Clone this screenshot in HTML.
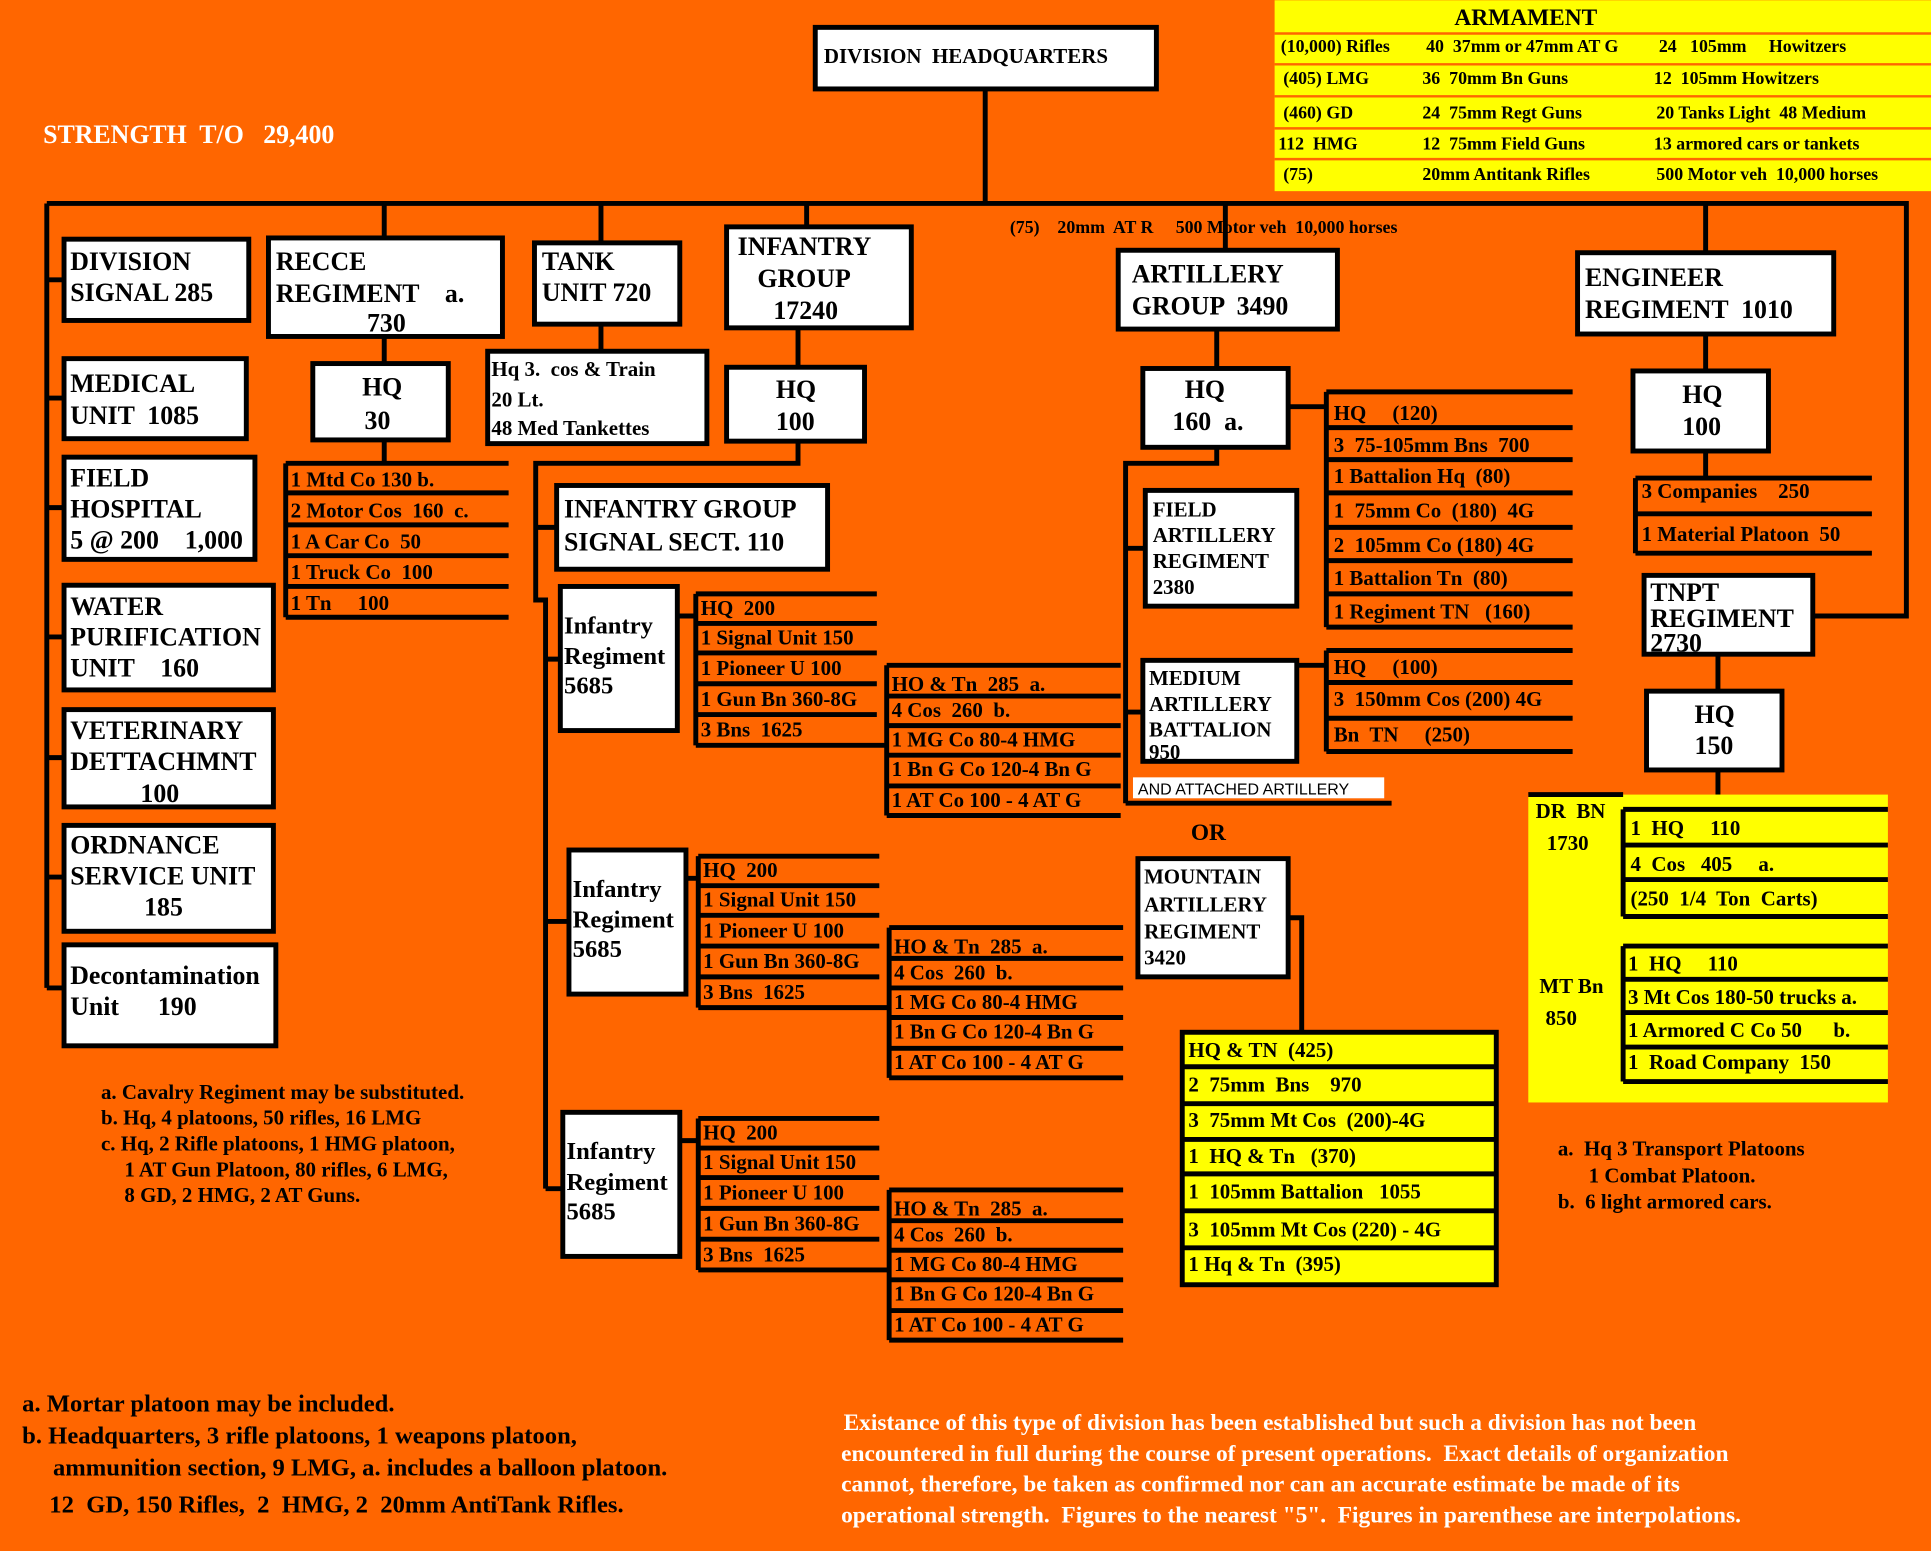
<!DOCTYPE html>
<html><head><meta charset="utf-8"><style>
html,body{margin:0;padding:0;background:#FF6600;}
svg{display:block;}
text{font-family:"Liberation Serif",serif;font-weight:bold;fill:#000;white-space:pre;}
.b{font-size:21px;}
.s{font-size:17px;}
.a{font-size:14.5px;}
.w{fill:#fff;}
</style></head><body>
<svg width="1931" height="1551" viewBox="0 0 1568 1259" xmlns="http://www.w3.org/2000/svg" xml:space="preserve">
<rect x="0" y="0" width="1568" height="1259" fill="#FF6600"/>
<g stroke="#000" stroke-width="4" fill="none">
<path d="M800 72V165M38 165H1548V500H1472M38 165V802"/>
<path d="M312 165V193M488 165V197M655 165V184M995 165V203M1385 165V205"/>
<path d="M38 227H52M38 323H52M38 412H52M38 517H52M38 615H52M38 712H52M38 802H52"/>
<path d="M312 273V295M312 357V376M232 376V501"/>
<path d="M232 376H413M232 400H413M232 426H413M232 451H413M232 476H413M232 501H413"/>
<path d="M488 263V285"/>
<path d="M648 266V298M648 358V376H435V487H443V965"/>
<path d="M435 428H452M443 535H455M443 748H462M443 965H457"/>
<path d="M988 267V299M988 363V376H914V652"/>
<path d="M914 445H930M914 578H928M914 652H1130"/>
<path d="M1046 330H1077M1077 318V509M1053 540H1077M1077 528V610"/>
<path d="M1077 318H1277M1077 347H1277M1077 373H1277M1077 400H1277M1077 428H1277M1077 455H1277M1077 482H1277M1077 509H1277"/>
<path d="M1077 528H1277M1077 554H1277M1077 583H1277M1077 610H1277"/>
<path d="M1046 745H1057V838"/>
<path d="M1385 271V301M1385 366V388M1328 388V449M1328 388H1520M1328 417H1520M1328 449H1520"/>
<path d="M1395 531V561M1395 625V645"/>
</g>
<g stroke="#000" stroke-width="4" fill="none">
<path d="M550 500H565M565 482V605M565 482H712M565 506H712M565 530H712M565 555H712M565 580H712M565 605H720"/>
<path d="M720 540V662M720 540H910M720 565H910M720 589H910M720 613H910M720 638H910M720 662H910"/>
</g>
<g stroke="#000" stroke-width="4" fill="none" transform="translate(2,213)">
<path d="M555 500H565M565 482V605M565 482H712M565 506H712M565 530H712M565 555H712M565 580H712M565 605H720"/>
<path d="M720 540V662M720 540H910M720 565H910M720 589H910M720 613H910M720 638H910M720 662H910"/>
</g>
<g stroke="#000" stroke-width="4" fill="none" transform="translate(2,426)">
<path d="M550 500H565M565 482V605M565 482H712M565 506H712M565 530H712M565 555H712M565 580H712M565 605H720"/>
<path d="M720 540V662M720 540H910M720 565H910M720 589H910M720 613H910M720 638H910M720 662H910"/>
</g>
<g fill="#fff" stroke="#000" stroke-width="4">
<rect x="662" y="22" width="277" height="50"/>
<rect x="52" y="194" width="150" height="66"/>
<rect x="52" y="291" width="148" height="65"/>
<rect x="52" y="371" width="155" height="83"/>
<rect x="52" y="475" width="170" height="85"/>
<rect x="52" y="576" width="170" height="79"/>
<rect x="52" y="670" width="170" height="86"/>
<rect x="52" y="767" width="172" height="82"/>
<rect x="218" y="193" width="190" height="80"/>
<rect x="254" y="295" width="110" height="62"/>
<rect x="434" y="197" width="118" height="66"/>
<rect x="396" y="285" width="178" height="75"/>
<rect x="590" y="184" width="150" height="82"/>
<rect x="590" y="298" width="112" height="60"/>
<rect x="452" y="394" width="220" height="68"/>
<rect x="455" y="476" width="95" height="117"/>
<rect x="462" y="690" width="95" height="117"/>
<rect x="457" y="903" width="95" height="117"/>
<rect x="908" y="203" width="178" height="64"/>
<rect x="928" y="299" width="118" height="64"/>
<rect x="930" y="398" width="123" height="94"/>
<rect x="928" y="536" width="125" height="82"/>
<rect x="924" y="697" width="122" height="96"/>
<rect x="1281" y="205" width="208" height="66"/>
<rect x="1326" y="301" width="110" height="65"/>
<rect x="1335" y="467" width="137" height="64"/>
<rect x="1337" y="561" width="110" height="64"/>
</g>
<rect x="920" y="631" width="204" height="17" fill="#fff"/>
<rect x="1035" y="0" width="533" height="155" fill="#FFFF00"/>
<g stroke="#FF6600" stroke-width="2"><path d="M1035 27H1568M1035 52H1568M1035 78H1568M1035 104H1568M1035 129H1568"/></g>
<rect x="960" y="838" width="255" height="205" fill="#FFFF00" stroke="#000" stroke-width="4"/>
<g stroke="#000" stroke-width="4"><path d="M960 866H1215M960 896H1215M960 925H1215M960 953H1215M960 983H1215M960 1013H1215"/></g>
<rect x="1241" y="645" width="292" height="250" fill="#FFFF00"/>
<g stroke="#000" stroke-width="4" fill="none">
<path d="M1241 645H1318M1318 657V744M1318 657H1533M1318 686H1533M1318 714H1533M1318 744H1533"/>
<path d="M1318 768V878M1318 768H1533M1318 795H1533M1318 822H1533M1318 850H1533M1318 878H1533"/>
</g>

<text class="s" x="669" y="51">DIVISION  HEADQUARTERS</text>
<text class="b w" x="35" y="116">STRENGTH  T/O   29,400</text>
<text class="s" x="1181" y="20" style="font-size:19px">ARMAMENT</text>
<g class="a">
<text x="1040" y="42">(10,000) Rifles</text><text x="1158" y="42">40  37mm or 47mm AT G</text><text x="1347" y="42">24   105mm     Howitzers</text>
<text x="1042" y="68">(405) LMG</text><text x="1155" y="68">36  70mm Bn Guns</text><text x="1343" y="68">12  105mm Howitzers</text>
<text x="1042" y="96">(460) GD</text><text x="1155" y="96">24  75mm Regt Guns</text><text x="1345" y="96">20 Tanks Light  48 Medium</text>
<text x="1038" y="121">112  HMG</text><text x="1155" y="121">12  75mm Field Guns</text><text x="1343" y="121">13 armored cars or tankets</text>
<text x="1042" y="146">(75)</text><text x="1155" y="146">20mm Antitank Rifles</text><text x="1345" y="146">500 Motor veh  10,000 horses</text>
<text x="820" y="189">(75)    20mm  AT R     500 Motor veh  10,000 horses</text>
</g>
<g class="b">
<text x="57" y="219">DIVISION</text><text x="57" y="244">SIGNAL 285</text>
<text x="57" y="318">MEDICAL</text><text x="57" y="344">UNIT  1085</text>
<text x="57" y="395">FIELD</text><text x="57" y="420">HOSPITAL</text><text x="57" y="445">5 @ 200    1,000</text>
<text x="57" y="499">WATER</text><text x="57" y="524">PURIFICATION</text><text x="57" y="549">UNIT    160</text>
<text x="57" y="600">VETERINARY</text><text x="57" y="625">DETTACHMNT</text><text x="114" y="651">100</text>
<text x="57" y="693">ORDNANCE</text><text x="57" y="718">SERVICE UNIT</text><text x="117" y="743">185</text>
<text x="57" y="799">Decontamination</text><text x="57" y="824">Unit      190</text>
<text x="224" y="219">RECCE</text><text x="224" y="245">REGIMENT    a.</text><text x="298" y="269">730</text>
<text x="294" y="321">HQ</text><text x="296" y="348">30</text>
<text x="440" y="219">TANK</text><text x="440" y="244">UNIT 720</text>
<text x="599" y="207">INFANTRY</text><text x="615" y="233">GROUP</text><text x="628" y="259">17240</text>
<text x="630" y="323">HQ</text><text x="630" y="349">100</text>
<text x="458" y="420">INFANTRY GROUP</text><text x="458" y="447">SIGNAL SECT. 110</text>
<text x="919" y="229">ARTILLERY</text><text x="919" y="255">GROUP  3490</text>
<text x="962" y="323">HQ</text><text x="952" y="349">160  a.</text>
<text x="1287" y="232">ENGINEER</text><text x="1287" y="258">REGIMENT  1010</text>
<text x="1366" y="327">HQ</text><text x="1366" y="353">100</text>
<text x="1376" y="587">HQ</text><text x="1376" y="612">150</text>
<text x="1340" y="488">TNPT</text><text x="1340" y="509">REGIMENT</text><text x="1340" y="529">2730</text>
</g>
<g class="s">
<text x="399" y="305">Hq 3.  cos &amp; Train</text><text x="399" y="330">20 Lt.</text><text x="399" y="353">48 Med Tankettes</text>
<text x="236" y="395">1 Mtd Co 130 b.</text><text x="236" y="420">2 Motor Cos  160  c.</text><text x="236" y="445">1 A Car Co  50</text><text x="236" y="470">1 Truck Co  100</text><text x="236" y="495">1 Tn     100</text>
<text x="936" y="419">FIELD</text><text x="936" y="440">ARTILLERY</text><text x="936" y="461">REGIMENT</text><text x="936" y="482">2380</text>
<text x="933" y="556">MEDIUM</text><text x="933" y="577">ARTILLERY</text><text x="933" y="598">BATTALION</text><text x="933" y="616">950</text>
<text x="929" y="717">MOUNTAIN</text><text x="929" y="740">ARTILLERY</text><text x="929" y="762">REGIMENT</text><text x="929" y="783">3420</text>
<text x="967" y="682" style="font-size:19px">OR</text>
<text x="1083" y="341">HQ     (120)</text><text x="1083" y="367">3  75-105mm Bns  700</text><text x="1083" y="392">1 Battalion Hq  (80)</text><text x="1083" y="420">1  75mm Co  (180)  4G</text><text x="1083" y="448">2  105mm Co (180) 4G</text><text x="1083" y="475">1 Battalion Tn  (80)</text><text x="1083" y="502">1 Regiment TN   (160)</text>
<text x="1083" y="547">HQ     (100)</text><text x="1083" y="573">3  150mm Cos (200) 4G</text><text x="1083" y="602">Bn  TN     (250)</text>
<text x="965" y="858">HQ &amp; TN  (425)</text><text x="965" y="886">2  75mm  Bns    970</text><text x="965" y="915">3  75mm Mt Cos  (200)-4G</text><text x="965" y="944">1  HQ &amp; Tn   (370)</text><text x="965" y="973">1  105mm Battalion   1055</text><text x="965" y="1004">3  105mm Mt Cos (220) - 4G</text><text x="965" y="1032">1 Hq &amp; Tn  (395)</text>
<text x="1333" y="404">3 Companies    250</text><text x="1333" y="439">1 Material Platoon  50</text>
<text x="1247" y="664">DR  BN</text><text x="1256" y="690">1730</text>
<text x="1324" y="678">1  HQ     110</text><text x="1324" y="707">4  Cos   405     a.</text><text x="1324" y="735">(250  1/4  Ton  Carts)</text>
<text x="1250" y="806">MT Bn</text><text x="1255" y="832">850</text>
<text x="1322" y="788">1  HQ     110</text><text x="1322" y="815">3 Mt Cos 180-50 trucks a.</text><text x="1322" y="842">1 Armored C Co 50      b.</text><text x="1322" y="868">1  Road Company  150</text>
<text x="1265" y="938">a.  Hq 3 Transport Platoons</text><text x="1290" y="960">1 Combat Platoon.</text><text x="1265" y="981">b.  6 light armored cars.</text>
<text x="82" y="892">a. Cavalry Regiment may be substituted.</text><text x="82" y="913">b. Hq, 4 platoons, 50 rifles, 16 LMG</text><text x="82" y="934">c. Hq, 2 Rifle platoons, 1 HMG platoon,</text><text x="101" y="955">1 AT Gun Platoon, 80 rifles, 6 LMG,</text><text x="101" y="976">8 GD, 2 HMG, 2 AT Guns.</text>
</g>
<text x="924" y="645" style="font-family:'Liberation Sans',sans-serif;font-weight:normal;font-size:13px">AND ATTACHED ARTILLERY</text>
<g class="b">
<text x="458" y="514" style="font-size:20px">Infantry</text><text x="458" y="539" style="font-size:20px">Regiment</text><text x="458" y="563" style="font-size:20px">5685</text>
<text x="465" y="728" style="font-size:20px">Infantry</text><text x="465" y="753" style="font-size:20px">Regiment</text><text x="465" y="777" style="font-size:20px">5685</text>
<text x="460" y="941" style="font-size:20px">Infantry</text><text x="460" y="966" style="font-size:20px">Regiment</text><text x="460" y="990" style="font-size:20px">5685</text>
</g>
<g class="s">
<g>
<text x="569" y="499">HQ  200</text><text x="569" y="523">1 Signal Unit 150</text><text x="569" y="548">1 Pioneer U 100</text><text x="569" y="573">1 Gun Bn 360-8G</text><text x="569" y="598">3 Bns  1625</text>
<text x="724" y="561">HO &amp; Tn  285  a.</text><text x="724" y="582">4 Cos  260  b.</text><text x="724" y="606">1 MG Co 80-4 HMG</text><text x="724" y="630">1 Bn G Co 120-4 Bn G</text><text x="724" y="655">1 AT Co 100 - 4 AT G</text>
</g>
<g transform="translate(2,213)">
<text x="569" y="499">HQ  200</text><text x="569" y="523">1 Signal Unit 150</text><text x="569" y="548">1 Pioneer U 100</text><text x="569" y="573">1 Gun Bn 360-8G</text><text x="569" y="598">3 Bns  1625</text>
<text x="724" y="561">HO &amp; Tn  285  a.</text><text x="724" y="582">4 Cos  260  b.</text><text x="724" y="606">1 MG Co 80-4 HMG</text><text x="724" y="630">1 Bn G Co 120-4 Bn G</text><text x="724" y="655">1 AT Co 100 - 4 AT G</text>
</g>
<g transform="translate(2,426)">
<text x="569" y="499">HQ  200</text><text x="569" y="523">1 Signal Unit 150</text><text x="569" y="548">1 Pioneer U 100</text><text x="569" y="573">1 Gun Bn 360-8G</text><text x="569" y="598">3 Bns  1625</text>
<text x="724" y="561">HO &amp; Tn  285  a.</text><text x="724" y="582">4 Cos  260  b.</text><text x="724" y="606">1 MG Co 80-4 HMG</text><text x="724" y="630">1 Bn G Co 120-4 Bn G</text><text x="724" y="655">1 AT Co 100 - 4 AT G</text>
</g>
</g>
<g style="font-size:20px">
<text x="18" y="1146">a. Mortar platoon may be included.</text>
<text x="18" y="1172">b. Headquarters, 3 rifle platoons, 1 weapons platoon,</text>
<text x="43" y="1198">ammunition section, 9 LMG, a. includes a balloon platoon.</text>
<text x="40" y="1228">12  GD, 150 Rifles,  2  HMG, 2  20mm AntiTank Rifles.</text>
</g>
<g style="font-size:19px">
<text class="w" x="685" y="1161">Existance of this type of division has been established but such a division has not been</text>
<text class="w" x="683" y="1186">encountered in full during the course of present operations.  Exact details of organization</text>
<text class="w" x="683" y="1211">cannot, therefore, be taken as confirmed nor can an accurate estimate be made of its</text>
<text class="w" x="683" y="1236">operational strength.  Figures to the nearest "5".  Figures in parenthese are interpolations.</text>
</g>
</svg>
</body></html>
